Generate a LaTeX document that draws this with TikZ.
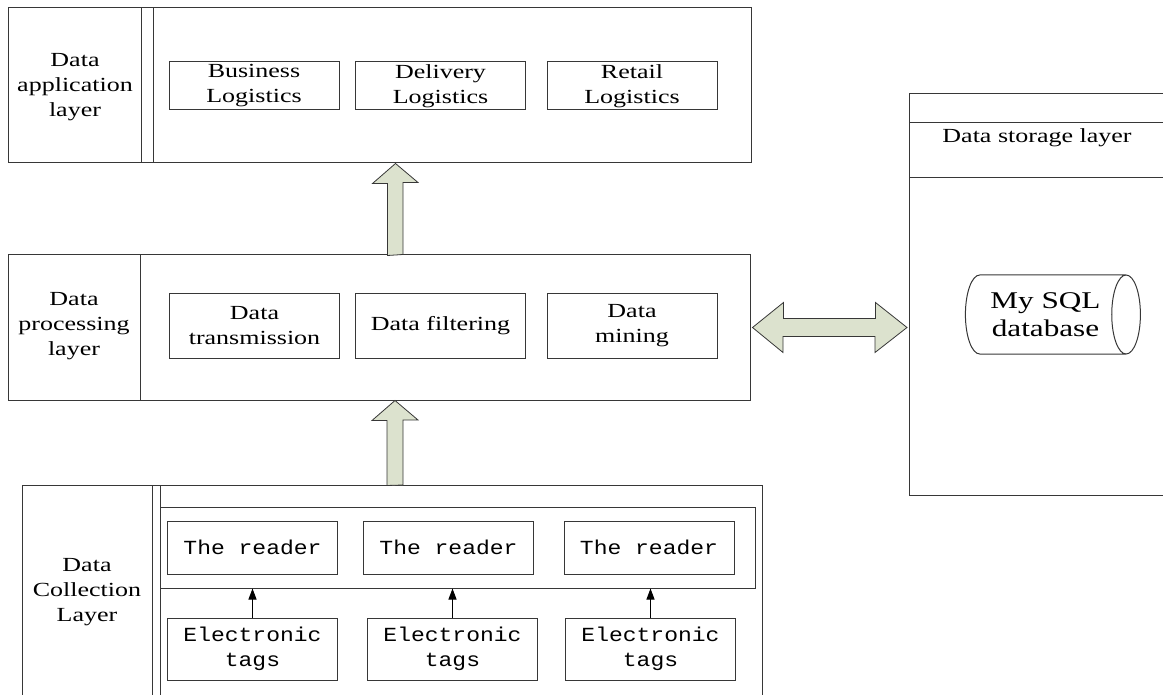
\documentclass[tikz,border=0pt]{standalone}
\usepackage{fontspec}
\setmainfont[FakeStretch=1.3]{Liberation Serif}
\setmonofont[FakeStretch=1.15]{Liberation Mono}
\usetikzlibrary{shapes.geometric,arrows.meta,positioning}

\definecolor{linegray}{RGB}{55,55,55}
\definecolor{arrowfill}{RGB}{220,226,206}

\tikzset{
  frame/.style={draw=linegray, line width=1pt, inner sep=0pt},
  box/.style={draw=linegray, line width=1pt, minimum width=170, align=center,
    inner sep=0pt, font=\fontsize{20}{25}\selectfont},
  monobox/.style={box, font=\fontsize{20}{25}\selectfont\ttfamily},
  label/.style={align=center, inner sep=0pt, font=\fontsize{20}{25}\selectfont},
  fat/.style={draw=linegray, fill=arrowfill, line width=0.8pt, line join=miter},
}

\begin{document}
\begin{tikzpicture}[x=1pt, y=-1pt]
  \useasboundingbox (0,0) rectangle (1163,695);

  % application layer
  \node[frame, minimum width=743, minimum height=155] (app) at (379.5,85.5) {};
  \draw[linegray, line width=1pt] (141,8) -- (141,163) (153,8) -- (153,163);
  \node[label] (applbl) at (75,87) {Data\\application\\layer};
  \node[box, minimum height=48] (busi) at (254,86) {Business\\Logistics};
  \node[box, minimum height=48] (deli) at (440.5,86) {Delivery\\Logistics};
  \node[box, minimum height=48] (reta) at (632,86) {Retail\\Logistics};

  % processing layer
  \node[frame, minimum width=742, minimum height=145] (proc) at (379,327.5) {};
  \draw[linegray, line width=1pt] (140,255) -- (140,400);
  \node[label] (proclbl) at (74,326) {Data\\processing\\layer};
  \node[box, minimum height=64] (trans) at (254.5,326) {Data\\transmission};
  \node[box, minimum height=64] (filt) at (440.5,326) {Data filtering};
  \node[box, minimum height=64] (mine) at (632,326) {Data\\mining};

  % collection layer
  \draw[linegray, line width=1pt] (22,695) -- (22,485) -- (762,485) -- (762,695);
  \draw[linegray, line width=1pt] (152,485) -- (152,695) (160,485) -- (160,695);
  \coordinate (colltop) at (395,485);
  \node[label] (colllbl) at (87,592) {Data\\Collection\\Layer};
  \node[frame, minimum width=595, minimum height=81] (rdrs) at (457.5,547.5) {};
  \node[monobox, minimum height=53] (rd1) at (252.5,547.5) {The reader};
  \node[monobox, minimum height=53] (rd2) at (448.5,547.5) {The reader};
  \node[monobox, minimum height=53] (rd3) at (649,547.5) {The reader};
  \node[monobox, minimum height=62] (tag1) at (252.5,649) {Electronic\\tags};
  \node[monobox, minimum height=62] (tag2) at (452.5,649) {Electronic\\tags};
  \node[monobox, minimum height=62] (tag3) at (650.5,649) {Electronic\\tags};
  \foreach \t in {tag1,tag2,tag3}
    \draw[line width=1pt, -{Triangle[length=11pt,width=8pt]}] (\t.north) -- (\t.north |- rdrs.south);

  % storage layer
  \draw[linegray, line width=1pt] (1163,94) -- (909,94) -- (909,495) -- (1163,495);
  \draw[linegray, line width=1pt] (909,123) -- (1163,123) (909,178) -- (1163,178);
  \coordinate (storw) at (909,327.5);
  \node[label] (storlbl) at (1037,138) {Data storage layer};
  \node[cylinder, draw=linegray, line width=1pt, aspect=0.65, minimum width=79,
    minimum height=175, inner sep=0pt, align=center,
    font=\fontsize{24}{28}\selectfont] (sql) at (1045.5,314.5) {My SQL\\database};

  % fat arrows
  \draw[fat] ([xshift=24]proc.north) -- ++(0,-72) -- ++(15,0) -- ([xshift=16]app.south)
    -- ++(-23,20) -- ++(15,0) -- ++(0,72) -- cycle;
  \draw[fat] ([xshift=8]colltop) -- ++(0,-65) -- ++(15,0) -- ([xshift=16]proc.south)
    -- ++(-23,20) -- ++(15,0) -- ++(0,65) -- cycle;
  \draw[fat] ([xshift=2]proc.east) -- ++(31,-25) -- ++(0,16) -- ++(92,0) -- ++(0,-16)
    -- ([xshift=-2]storw) -- ++(-32,25) -- ++(0,-16) -- ++(-92,0) -- ++(0,16) -- cycle;
\end{tikzpicture}
\end{document}
